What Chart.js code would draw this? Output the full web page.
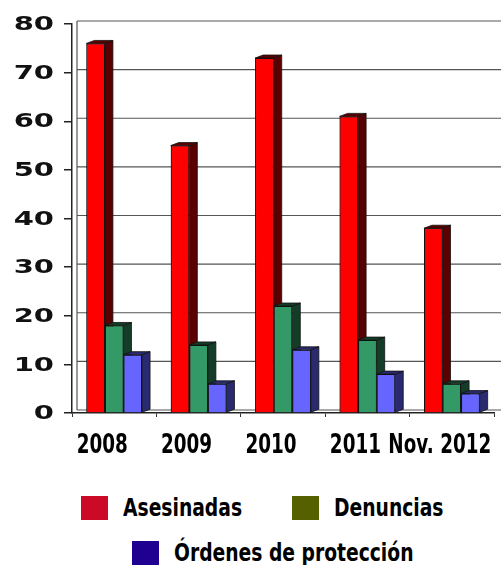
<!DOCTYPE html>
<html>
<head>
<meta charset="utf-8">
<script src="https://cdn.jsdelivr.net/npm/chart.js@4"></script>
<style>
  body { margin: 0; background: #fff; }
  #wrap { width: 501px; height: 470px; }
  #legend { width: 501px; box-sizing: border-box; padding-left: 24px; display: flex; flex-wrap: wrap; justify-content: center; row-gap: 17px; margin-top: 24px; }
  .item { display: flex; align-items: center; margin: 0 25px; }
  .item:last-child { margin-left: 45px; }
  .box { width: 27px; height: 24px; margin-right: 15px; }
  .txt { display: inline-block; font: bold 24px "DejaVu Sans", sans-serif; color: #000; transform: scaleX(0.78); transform-origin: left center; }
</style>
</head>
<body>
<div id="wrap"><canvas id="chart" width="501" height="470"></canvas></div>
<div id="legend"></div>
<script>
const years = ["2008", "2009", "2010", "2011", "Nov. 2012"];
const asesinadas = [76, 55, 73, 61, 38];
const denuncias = [18, 14, 22, 15, 6];
const ordenes = [12, 6, 13, 8, 4];
const seriesNames = ["Asesinadas", "Denuncias", "Órdenes de protección"];
const yTicks = [0, 10, 20, 30, 40, 50, 60, 70, 80];

const faceColors = ["#ff0000", "#339966", "#6666ff"];
const sideColors = ["#5a0000", "#143d28", "#2a2a70"];
const legendColors = ["#cc0a25", "#556000", "#200090"];

// redraw bars left to right (red, green, blue) with side and top faces
const bars3d = {
  id: "bars3d",
  afterDatasetsDraw(chart) {
    const ctx = chart.ctx;
    const dx = 8, dy = 3;
    chart.data.datasets.forEach((ds, i) => {
      const meta = chart.getDatasetMeta(i);
      meta.data.forEach((el) => {
        el.draw(ctx, chart.chartArea);
        const p = el.getProps(["x", "y", "base", "width"], true);
        const l = p.x - p.width / 2, r = p.x + p.width / 2;
        ctx.save();
        ctx.fillStyle = sideColors[i];
        ctx.strokeStyle = "#111";
        ctx.lineWidth = 0.8;
        ctx.beginPath();
        ctx.moveTo(r, p.y);
        ctx.lineTo(r + dx, p.y - dy);
        ctx.lineTo(r + dx, p.base - dy);
        ctx.lineTo(r, p.base);
        ctx.closePath();
        ctx.fill();
        ctx.stroke();
        ctx.beginPath();
        ctx.moveTo(l, p.y);
        ctx.lineTo(l + dx, p.y - dy);
        ctx.lineTo(r + dx, p.y - dy);
        ctx.lineTo(r, p.y);
        ctx.closePath();
        ctx.fill();
        ctx.stroke();
        ctx.restore();
      });
    });
  }
};

// back wall grid, shifted a little up/right
const backWall = {
  id: "backWall",
  beforeDatasetsDraw(chart) {
    const ctx = chart.ctx, y = chart.scales.y, a = chart.chartArea;
    const dx = 5, dy = 3;
    ctx.save();
    ctx.strokeStyle = "#555";
    ctx.lineWidth = 1.2;
    y.ticks.forEach((t) => {
      const py = y.getPixelForValue(t.value) - dy;
      ctx.beginPath();
      ctx.moveTo(a.left + dx, py);
      ctx.lineTo(chart.width, py);
      ctx.stroke();
    });
    ctx.beginPath();
    ctx.moveTo(a.left + dx, y.getPixelForValue(80) - dy);
    ctx.lineTo(a.left + dx, a.bottom - dy);
    ctx.stroke();
    ctx.restore();
  }
};

// wide heavy y labels, tall narrow x labels
const axisLabels = {
  id: "axisLabels",
  afterDraw(chart) {
    const ctx = chart.ctx, y = chart.scales.y, x = chart.scales.x;
    ctx.save();
    ctx.fillStyle = "#111";
    ctx.font = "bold 20px 'DejaVu Sans'";
    ctx.textAlign = "right";
    ctx.textBaseline = "middle";
    ctx.scale(1.45, 1);
    y.ticks.forEach((t) => {
      ctx.fillText(String(t.value), 54 / 1.45, y.getPixelForValue(t.value) + 1);
    });
    ctx.restore();

    ctx.save();
    ctx.fillStyle = "#000";
    ctx.font = "bold 27px 'DejaVu Sans'";
    ctx.textAlign = "center";
    ctx.textBaseline = "alphabetic";
    const sx = 0.68;
    ctx.scale(sx, 1);
    x.ticks.forEach((t, i) => {
      let cx = x.getPixelForTick(i) - 12;
      ctx.fillText(x.getLabelForValue(t.value), cx / sx, 453);
    });
    ctx.restore();
  }
};

new Chart(document.getElementById("chart"), {
  type: "bar",
  data: {
    labels: years,
    datasets: [
      { label: seriesNames[0], data: asesinadas, backgroundColor: faceColors[0] },
      { label: seriesNames[1], data: denuncias, backgroundColor: faceColors[1] },
      { label: seriesNames[2], data: ordenes, backgroundColor: faceColors[2] }
    ].map((d) => Object.assign(d, { borderColor: "#111", borderWidth: 1, barPercentage: 1, categoryPercentage: 0.66 }))
  },
  options: {
    responsive: false,
    animation: false,
    layout: { padding: { top: 24, right: 7, bottom: 0, left: 0 } },
    plugins: { legend: { display: false }, tooltip: { enabled: false } },
    scales: {
      x: {
        grid: { drawOnChartArea: false, tickLength: 4, color: "#333" },
        border: { color: "#222", width: 1.5 },
        ticks: { display: false, autoSkip: false },
        afterFit: (s) => { s.height = 57; }
      },
      y: {
        min: 0,
        max: 80,
        afterBuildTicks: (s) => { s.ticks = yTicks.map((v) => ({ value: v })); },
        grid: { drawOnChartArea: false, tickLength: 8, color: "#222", lineWidth: 1.5 },
        border: { color: "#222", width: 1.5 },
        ticks: { display: false },
        afterFit: (s) => { s.width = 72; }
      }
    }
  },
  plugins: [backWall, bars3d, axisLabels]
});

const legend = document.getElementById("legend");
seriesNames.forEach((name, i) => {
  const item = document.createElement("div");
  item.className = "item";
  item.innerHTML = '<div class="box" style="background:' + legendColors[i] + '"></div><span class="txt">' + name + "</span>";
  legend.appendChild(item);
  const txt = item.querySelector(".txt");
  txt.style.marginRight = -(txt.offsetWidth * 0.22) + "px";
});
</script>
</body>
</html>
